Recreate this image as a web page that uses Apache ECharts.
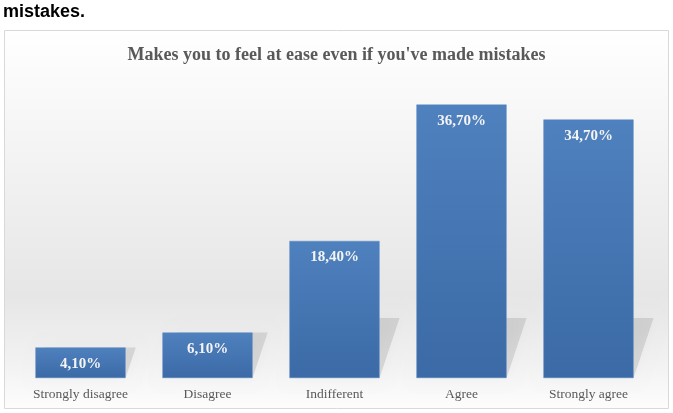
<!DOCTYPE html>
<html>
<head>
<meta charset="utf-8">
<script src="https://cdn.jsdelivr.net/npm/echarts@6/dist/echarts.min.js"></script>
<style>
html,body{margin:0;padding:0;background:#fff;}
#c{width:673px;height:413px;}
</style>
</head>
<body>
<div id="c"></div>
<script>
const pageHeading = "mistakes.";
const chartTitle = "Makes you to feel at ease even if you've made mistakes";
const categories = ["Strongly disagree", "Disagree", "Indifferent", "Agree", "Strongly agree"];
const values = [4.1, 6.1, 18.4, 36.7, 34.7];
const valueLabels = ["4,10%", "6,10%", "18,40%", "36,70%", "34,70%"];

const chart = echarts.init(document.getElementById('c'), null, {renderer: 'canvas'});
const serif = '"Liberation Serif", "Times New Roman", serif';

chart.setOption({
  animation: false,
  backgroundColor: '#ffffff',
  graphic: [
    {
      type: 'rect', z: -10, silent: true,
      shape: {x: 4.5, y: 30.5, width: 664, height: 378},
      style: {
        fill: new echarts.graphic.LinearGradient(0, 0, 0, 1, [
          {offset: 0, color: '#ffffff'},
          {offset: 0.25, color: '#f6f6f6'},
          {offset: 0.7, color: '#e6e6e6'},
          {offset: 0.88, color: '#f2f2f2'},
          {offset: 1, color: '#fdfdfd'}
        ]),
        stroke: '#d9d9d9', lineWidth: 1
      }
    },
    {
      type: 'text', z: 10, left: 3, top: 3,
      style: {text: pageHeading, font: 'bold 18px "Liberation Sans", Arial, sans-serif', fill: '#000000'}
    }
  ],
  title: {
    text: chartTitle,
    left: 'center', top: 41,
    textStyle: {fontFamily: serif, fontSize: 18, fontWeight: 'bold', color: '#595959'}
  },
  grid: {left: 17, right: 21, top: 80, bottom: 35},
  xAxis: {
    type: 'category',
    data: categories,
    axisLine: {show: false},
    axisTick: {show: false},
    axisLabel: {fontFamily: serif, fontSize: 13.5, color: '#595959', margin: 9}
  },
  yAxis: {
    type: 'value', min: 0, max: 40,
    show: false, splitLine: {show: false}
  },
  series: [
    {
      type: 'custom',
      z: 1,
      silent: true,
      data: values.map((v, i) => [i, v]),
      renderItem: function (params, api) {
        const idx = api.value(0);
        const v = api.value(1);
        const base = api.coord([idx, 0]);
        const top = api.coord([idx, v]);
        const w = api.size([1, 0])[0] * 0.71;
        const x0 = base[0] - w / 2, x1 = base[0] + w / 2;
        const h = Math.min(base[1] - top[1], 60);
        const off = h / 3;
        return {
          type: 'polygon',
          shape: {points: [[x0, base[1]], [x0 + off, base[1] - h], [x1 + off, base[1] - h], [x1, base[1]]]},
          style: {fill: 'rgba(0,0,0,0.10)', shadowBlur: 14, shadowColor: 'rgba(0,0,0,0.22)'}
        };
      }
    },
    {
      type: 'bar',
      z: 3,
      data: values,
      barWidth: '71%',
      itemStyle: {
        color: new echarts.graphic.LinearGradient(0, 0, 0, 1, [
          {offset: 0, color: '#4f81be'},
          {offset: 1, color: '#3b6aa6'}
        ]),
        borderColor: '#5a8ac4', borderWidth: 0.5
      },
      label: {
        show: true,
        position: 'insideTop',
        distance: 9,
        formatter: p => valueLabels[p.dataIndex],
        fontFamily: serif, fontSize: 15, fontWeight: 'bold', color: '#f4f4f4'
      }
    }
  ]
});
</script>
</body>
</html>
